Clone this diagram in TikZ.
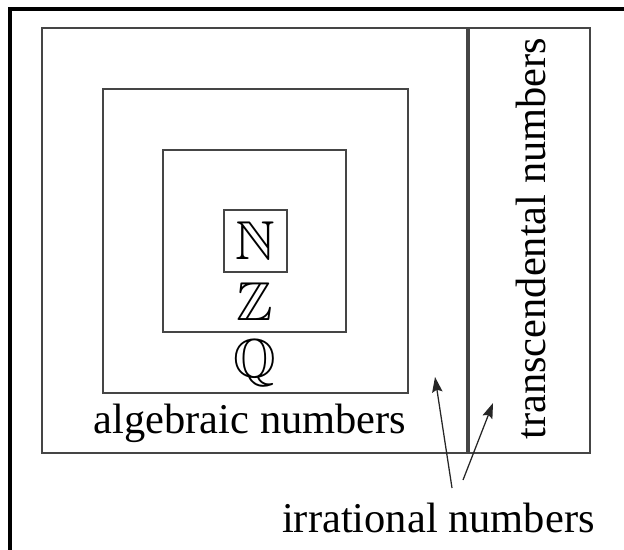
\documentclass[tikz,border=0pt]{standalone}
\usepackage{amssymb}
\usepackage{fontspec}
\setmainfont{Liberation Serif}
\usepackage{xcolor}
\usetikzlibrary{arrows.meta,positioning}
\definecolor{ink}{HTML}{000000}
\definecolor{edge}{HTML}{454545}
\tikzset{
  frame/.style={draw=ink,line width=2.5pt},
  region/.style={draw=edge,line width=1.5pt},
  divider/.style={draw=edge,line width=3.4pt},
  setbox/.style={draw=edge,line width=1.2pt,minimum width=1.575cm,minimum height=1.55cm,inner sep=0pt},
  setsym/.style={font=\fontsize{39}{40}\selectfont,text=ink,inner sep=0pt},
  lbl/.style={font=\fontsize{30.2}{34}\selectfont,text=ink,inner sep=0pt,anchor=base},
  arrow/.style={-{Stealth[length=3.8mm,width=2.6mm,inset=0.6mm]},line width=0.9pt,color=ink!85},
}

\begin{document}
\begin{tikzpicture}
    \useasboundingbox (0,0) rectangle (15.6,13.725);
    \clip (0,0) rectangle (15.6,13.725);
    % outer page frame, cut by the border
    \draw[frame] (0.25,-1) rectangle (17,13.5);
    % nested regions
    \draw[region] (1.05,2.4) rectangle (14.75,13.025);
    \draw[divider] (11.7,2.4) -- (11.7,13.025);
    \draw[region] (2.575,3.9) rectangle (10.2,11.5);
    \draw[region] (4.075,5.425) rectangle (8.65,9.975);
    \node[setbox,setsym] (nat) at (6.39,7.7) {$\mathbb{N}$};
    \node[setsym,anchor=base] (int) at (6.375,5.725) {$\mathbb{Z}$};
    \node[setsym,anchor=base] (rat) at (6.375,4.3) {$\mathbb{Q}$};
    \node[lbl] (alg) at (6.25,2.9) {algebraic numbers};
    \node[lbl,rotate=90] (trans) at (13.625,7.76) {transcendental numbers};
    \node[lbl] (irr) at (10.96,0.425) {irrational numbers};
    % arrows from the irrational label
    \coordinate (t1) at (11.3,1.525);
    \coordinate (t2) at (11.575,1.725);
    \coordinate (h1) at (10.875,4.3);
    \coordinate (h2) at (12.325,3.65);
    \draw[arrow] (t1) -- (h1);
    \draw[arrow] (t2) -- (h2);
\end{tikzpicture}
\end{document}
